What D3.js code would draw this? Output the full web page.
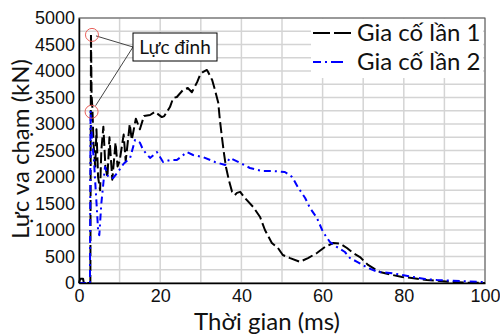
<!DOCTYPE html>
<html>
<head>
<meta charset="utf-8">
<script src="https://cdn.jsdelivr.net/npm/d3@7"></script>
<style>
  body { margin: 0; background: #fff; }
  svg { display: block; }
</style>
</head>
<body>
<svg id="chart" width="500" height="336"></svg>
<script>
// Gia co lan 1 (black dashed)
var time1 = [0, 0.3, 1.0, 1.2, 2.8, 2.95, 3.1, 3.3, 3.6, 4.0, 4.3, 4.7, 5.2, 5.5, 6.0, 6.5, 7.0, 7.5, 8.2, 9.0, 9.5, 10.0, 11.0, 11.5, 12.5, 13.0, 14.0, 15.0, 16.0, 17.5, 18.7, 20.4, 21.0, 22.4, 23.2, 24.1, 25.6, 26.8, 27.8, 29.1, 29.8, 30.5, 31.5, 31.8, 32.8, 33.5, 34.3, 34.7, 35.2, 35.7, 36.2, 36.9, 37.7, 38.4, 38.9, 39.7, 40.9, 42.9, 44.6, 45.8, 47.5, 49.0, 50.2, 52.0, 54.4, 56.4, 58.6, 60.6, 62.6, 64.3, 66.0, 67.5, 69.2, 71.2, 74.1, 77.3, 79.6, 82.0, 85.7, 88.9, 91.4, 95, 100];
var force1 = [0, 80, 80, 0, 0, 4700, 3550, 3300, 2600, 2200, 2900, 2000, 1750, 2500, 2950, 2200, 2000, 2750, 1950, 2650, 2200, 2300, 2800, 2300, 3000, 2700, 3100, 2900, 3150, 3170, 3230, 3130, 3150, 3320, 3490, 3510, 3640, 3680, 3600, 3790, 3925, 3980, 4020, 3980, 3830, 3640, 3400, 3075, 2755, 2450, 2190, 1945, 1720, 1660, 1700, 1720, 1600, 1435, 1245, 1000, 755, 660, 528, 470, 400, 470, 566, 680, 755, 745, 660, 566, 490, 340, 208, 150, 113, 94, 57, 38, 19, 8, 0];

// Gia co lan 2 (blue dash-dot)
var time2 = [0, 2.7, 2.85, 3.0, 3.3, 3.7, 4.0, 4.4, 4.7, 5.0, 5.5, 6.4, 7.2, 8.4, 9.6, 11.0, 12.6, 13.8, 15.0, 15.8, 17.5, 19.2, 20.7, 22.4, 24.1, 26.6, 28.1, 30.5, 33.5, 36.0, 37.2, 39.7, 42.1, 45.1, 47.8, 50.7, 52.5, 53.9, 55.7, 56.9, 58.6, 60.1, 61.8, 63.5, 65.5, 66.7, 68.5, 71.2, 73.6, 76.6, 79.6, 82.3, 85.2, 88.2, 93.8, 99.5];
var force2 = [0, 0, 3250, 2950, 2600, 2300, 1900, 1400, 1000, 900, 1500, 2190, 2000, 1980, 2095, 2250, 2360, 2700, 2650, 2510, 2360, 2470, 2283, 2320, 2320, 2470, 2415, 2377, 2283, 2226, 2360, 2265, 2170, 2113, 2113, 2095, 2000, 1810, 1604, 1415, 1227, 962, 773, 680, 585, 472, 400, 283, 208, 190, 150, 113, 75, 57, 38, 19];

var xTicks = [0, 20, 40, 60, 80, 100];
var yTicks = [0, 500, 1000, 1500, 2000, 2500, 3000, 3500, 4000, 4500, 5000];
var seriesNames = ['Gia cố lần 1', 'Gia cố lần 2'];

var margin = {top: 18, right: 15, bottom: 53, left: 79};
var svg = d3.select('#chart');
var width = +svg.attr('width') - margin.left - margin.right;
var height = +svg.attr('height') - margin.top - margin.bottom;

var x = d3.scaleLinear().domain([0, 100]).range([0, width]);
var y = d3.scaleLinear().domain([0, 5000]).range([height, 0]);

var g = svg.append('g').attr('transform', 'translate(' + margin.left + ',' + margin.top + ')');

// grid
g.append('g').selectAll('line')
  .data(d3.range(0, 5001, 250)).enter().append('line')
  .attr('x1', 0).attr('x2', width)
  .attr('y1', function(d) { return y(d); }).attr('y2', function(d) { return y(d); })
  .attr('stroke', '#d4d4d4').attr('stroke-width', 1.5);
g.append('g').selectAll('line')
  .data(d3.range(0, 101, 10)).enter().append('line')
  .attr('y1', 0).attr('y2', height)
  .attr('x1', function(d) { return x(d); }).attr('x2', function(d) { return x(d); })
  .attr('stroke', '#d4d4d4').attr('stroke-width', 1.5);

// frame
g.append('rect').attr('width', width).attr('height', height)
  .attr('fill', 'none').attr('stroke', '#555').attr('stroke-width', 1);

var line = d3.line()
  .x(function(d) { return x(d[0]); })
  .y(function(d) { return y(d[1]); });

var data1 = time1.map(function(t, i) { return [t, force1[i]]; });
var data2 = time2.map(function(t, i) { return [t, force2[i]]; });

g.append('path').datum(data1)
  .attr('d', line).attr('fill', 'none')
  .attr('stroke', '#000').attr('stroke-width', 2)
  .attr('stroke-dasharray', '11,4').attr('stroke-linejoin', 'round');

g.append('path').datum(data2)
  .attr('d', line).attr('fill', 'none')
  .attr('stroke', '#0000ff').attr('stroke-width', 2)
  .attr('stroke-dasharray', '7,4,2,4').attr('stroke-linejoin', 'round');

// axes
var xAxis = g.append('g').attr('transform', 'translate(0,' + height + ')')
  .call(d3.axisBottom(x).tickValues(xTicks).tickFormat(d3.format('d')).tickSize(0).tickPadding(6));
var yAxis = g.append('g')
  .call(d3.axisLeft(y).tickValues(yTicks).tickFormat(d3.format('d')).tickSize(0).tickPadding(4));
[xAxis, yAxis].forEach(function(a) {
  a.select('.domain').attr('stroke', '#000').attr('stroke-width', 1.5);
  a.selectAll('text').attr('font-family', '"Liberation Sans", Arial, sans-serif')
    .attr('font-size', 18).attr('fill', '#111');
});

// axis titles
svg.append('text').attr('x', 267).attr('y', 330)
  .attr('text-anchor', 'middle')
  .attr('font-family', 'Lato, sans-serif').attr('font-size', 24).attr('fill', '#111')
  .text('Thời gian (ms)');
svg.append('text')
  .attr('transform', 'translate(29,149) rotate(-90)')
  .attr('text-anchor', 'middle')
  .attr('font-family', 'Lato, sans-serif').attr('font-size', 24).attr('fill', '#111')
  .text('Lực va chạm (kN)');

// legend
var legend = g.append('g').attr('transform', 'translate(' + (311 - margin.left) + ',' + (19 - margin.top) + ')');
legend.append('rect').attr('width', 172).attr('height', 59).attr('fill', '#fff');
var legendStyles = [['#000', '17,4'], ['#0000ff', '8,4,2,4,12']];
seriesNames.forEach(function(name, i) {
  var row = legend.append('g').attr('transform', 'translate(0,' + (14 + i * 29) + ')');
  row.append('line').attr('x1', 2).attr('x2', 40)
    .attr('stroke', legendStyles[i][0]).attr('stroke-width', 2)
    .attr('stroke-dasharray', legendStyles[i][1]);
  row.append('text').attr('x', 46).attr('y', 8)
    .attr('font-family', 'Lato, sans-serif').attr('font-size', 24).attr('fill', '#111')
    .text(name);
});

// peak annotation
var peaks = [
  [time1[force1.indexOf(d3.max(force1))], d3.max(force1)],
  [time2[force2.indexOf(d3.max(force2))], d3.max(force2)]
];
var boxX = 133 - margin.left, boxY = 33 - margin.top;
peaks.forEach(function(p) {
  g.append('line')
    .attr('x1', x(p[0]) + 5).attr('y1', y(p[1]) + (p[1] > 4000 ? 2 : -5))
    .attr('x2', boxX).attr('y2', boxY + 14)
    .attr('stroke', '#444').attr('stroke-width', 1);
  g.append('circle').attr('cx', x(p[0]) + 1).attr('cy', y(p[1]) + 1).attr('r', 6.5)
    .attr('fill', 'none').attr('stroke', '#e8605a').attr('stroke-width', 1);
});
g.append('rect').attr('x', boxX).attr('y', boxY).attr('width', 84).attr('height', 28)
  .attr('fill', '#fff').attr('stroke', '#000').attr('stroke-width', 1);
g.append('text').attr('x', boxX + 42).attr('y', boxY + 21)
  .attr('text-anchor', 'middle')
  .attr('font-family', 'Lato, sans-serif').attr('font-size', 19).attr('fill', '#111')
  .text('Lực đỉnh');
</script>
</body>
</html>
